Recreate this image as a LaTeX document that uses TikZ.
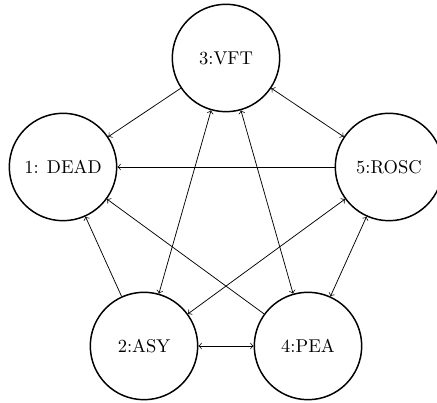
\documentclass[tikz,border=0pt]{standalone}
\begin{document}
\begin{tikzpicture}[x=0.54pt,y=-0.54pt,
  state/.style={circle,draw,thick,minimum size=58pt,inner sep=0pt,font=\normalsize},
  edge/.style={thin,->},
  bi/.style={thin,<->}]
\useasboundingbox (0,0) rectangle (437,403);
\node[state] (n3) at (226,58) {3:VFT};
\node[state] (n1) at (63,167) {1: DEAD};
\node[state] (n5) at (389,167) {5:ROSC};
\node[state] (n2) at (144,346) {2:ASY};
\node[state] (n4) at (308,346) {4:PEA};
\draw[edge] (n3) -- (n1);
\draw[edge] (n5) -- (n1);
\draw[edge] (n2) -- (n1);
\draw[edge] (n4) -- (n1);
\draw[bi] (n3) -- (n5);
\draw[bi] (n2) -- (n3);
\draw[bi] (n4) -- (n3);
\draw[bi] (n2) -- (n5);
\draw[bi] (n5) -- (n4);
\draw[bi] (n2) -- (n4);
\end{tikzpicture}
\end{document}
